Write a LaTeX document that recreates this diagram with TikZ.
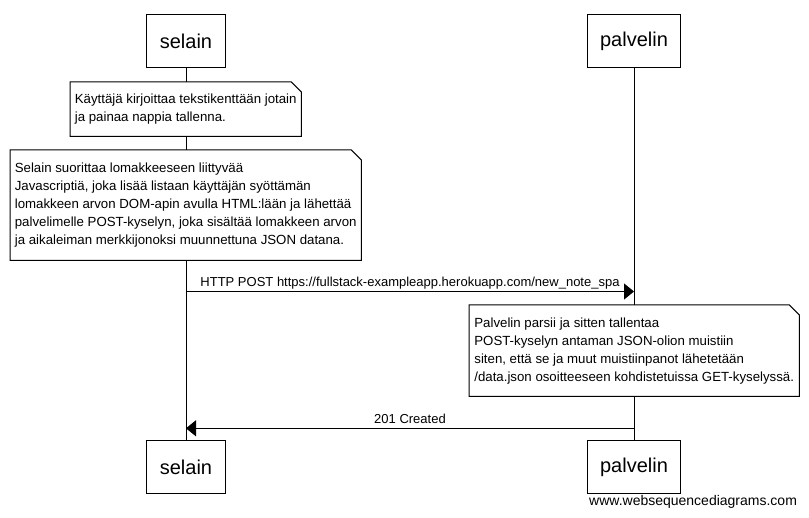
\documentclass[tikz,border=0pt]{standalone}
\usepackage{fontspec}
\setmainfont{Liberation Sans}
\usetikzlibrary{positioning,arrows.meta,calc}
\tikzstyle{msg} = [line width=1pt,-{Triangle[length=10pt,width=16pt]}]

% outline of a note with its folded corner
\newcommand{\noteframe}[1]{%
  \draw[line width=1pt] (#1.north west) -- ([xshift=-10pt]#1.north east)
    -- ([yshift=-10pt]#1.north east) -- (#1.south east) -- (#1.south west) -- cycle;
}

\begin{document}
\begin{tikzpicture}[x=1pt,y=-1pt,
  actor/.style={draw,line width=1pt,font=\fontsize{20}{24}\selectfont,inner xsep=13pt,minimum height=53pt},
  note/.style={fill=white,anchor=north west,align=left,inner sep=0pt,
    font=\fontsize{13.25}{18}\selectfont},
  msglabel/.style={anchor=base,font=\fontsize{13}{16}\selectfont,inner sep=0pt}]

 \useasboundingbox (0,0) rectangle (809,518);

 % actors
 \node [actor] (selainTop) at (186,41.5) {selain};
 \node [actor] (palvelinTop) at (634,41.5) {palvelin};
 \node [actor] (selainBottom) at (186,467.5) {selain};
 \node [actor] (palvelinBottom) at (634,467.5) {palvelin};

 % lifelines
 \draw[line width=1pt] (selainTop) -- (selainBottom);
 \draw[line width=1pt] (palvelinTop) -- (palvelinBottom);

 % notes
 \node [note,minimum width=231pt,minimum height=54pt] (noteInput) at (70,82)
   {Käyttäjä kirjoittaa tekstikenttään jotain\\ja painaa nappia tallenna.};
 \noteframe{noteInput}

 \node [note,minimum width=351pt,minimum height=110pt] (noteScript) at (10,150)
   {Selain suorittaa lomakkeeseen liittyvää\\
    Javascriptiä, joka lisää listaan käyttäjän syöttämän\\
    lomakkeen arvon DOM-apin avulla HTML:lään ja lähettää\\
    palvelimelle POST-kyselyn, joka sisältää lomakkeen arvon\\
    ja aikaleiman merkkijonoksi muunnettuna JSON datana.};
 \noteframe{noteScript}

 \node [note,minimum width=330pt,minimum height=91pt] (noteServer) at (469,305)
   {Palvelin parsii ja sitten tallentaa\\
    POST-kyselyn antaman JSON-olion muistiin\\
    siten, että se ja muut muistiinpanot lähetetään\\
    /data.json osoitteeseen kohdistetuissa GET-kyselyssä.};
 \noteframe{noteServer}

 % messages
 \coordinate (postY) at (0,291.5);
 \coordinate (createdY) at (0,428.3);
 \draw[msg] (selainTop |- postY) -- (palvelinTop |- postY)
   node [msglabel,midway,yshift=4.5pt] (postLabel) {HTTP POST https://fullstack-exampleapp.herokuapp.com/new\_note\_spa};
 \draw[msg] (palvelinTop |- createdY) -- (selainTop |- createdY)
   node [msglabel,midway,yshift=5pt] (createdLabel) {201 Created};

 \node [anchor=base west,inner sep=0pt,font=\fontsize{14}{16}\selectfont] (watermark) at (589,506) {www.websequencediagrams.com};
\end{tikzpicture}
\end{document}
